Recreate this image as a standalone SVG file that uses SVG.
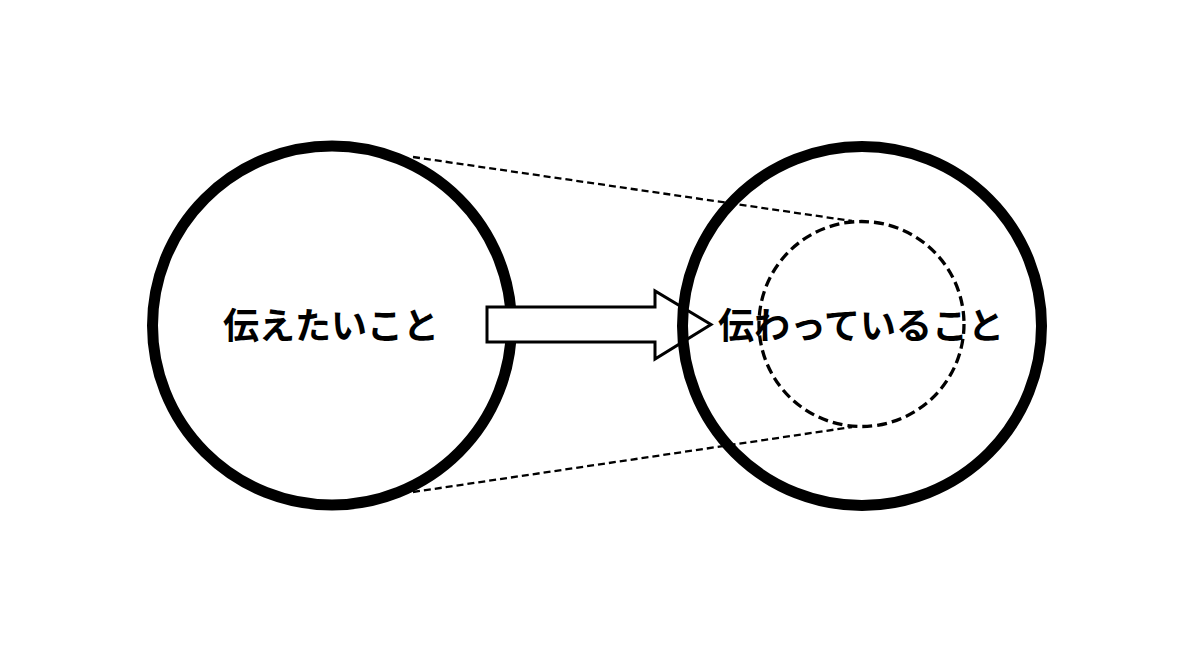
<svg xmlns="http://www.w3.org/2000/svg" width="1200" height="650" viewBox="0 0 1200 650">
<style>
.big{fill:none;stroke:#000;stroke-width:11}
.lbl{font-family:"Noto Sans CJK JP","Noto Sans",sans-serif;font-weight:bold;font-size:36px;fill:#000;text-anchor:middle}
.dl{fill:none;stroke:#000;stroke-width:2.3;stroke-dasharray:7 4}
</style>
<rect width="1200" height="650" fill="#fff"/>
<g id="connectors">
<path class="dl" d="M413,157 L852,221"/>
<path class="dl" d="M413,492 L852,427"/>
</g>
<g id="left">
<circle class="big" cx="332" cy="325.5" r="179.5" fill="#fff"/>
<text class="lbl" x="331" y="339">伝えたいこと</text>
</g>
<g id="arrow">
<path d="M487,307 L655,307 L655,291 L711,324.5 L655,359 L655,342 L487,342 Z" fill="#fff" stroke="#000" stroke-width="3" stroke-linejoin="miter"/>
</g>
<g id="right">
<circle class="big" cx="862" cy="326" r="179.5"/>
<text class="lbl" x="861" y="339">伝わっていること</text>
<circle cx="861.5" cy="324" r="102.5" fill="none" stroke="#000" stroke-width="3.3" stroke-dasharray="10 5"/>
</g>
</svg>
